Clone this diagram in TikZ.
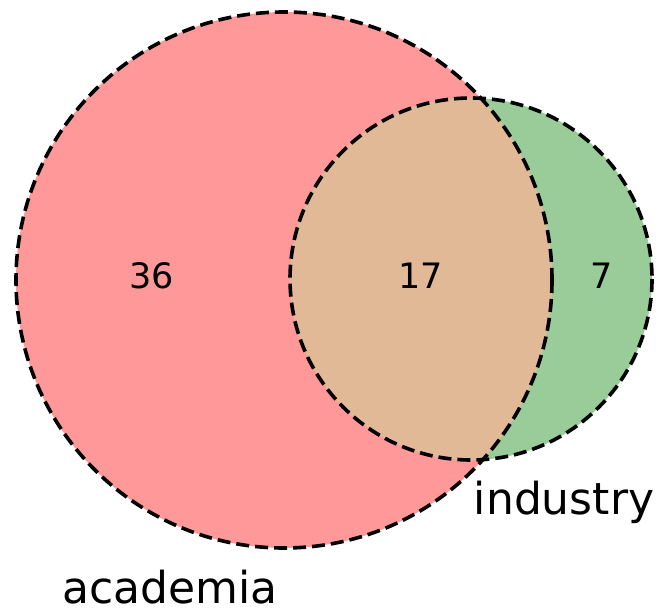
\documentclass[tikz,border=0pt]{standalone}
\usepackage{fontspec}
\setmainfont{DejaVu Sans}
\definecolor{setA}{RGB}{255,153,153}
\definecolor{setB}{RGB}{153,204,153}
\definecolor{setAB}{RGB}{225,185,150}
\begin{document}
\begin{tikzpicture}[x=1pt,y=-1pt,
  border/.style={draw=black,line width=3.6pt,dash pattern=on 13pt off 6pt},
  numlabel/.style={anchor=base,font=\fontsize{35}{40}\selectfont,inner sep=0pt},
  setlabel/.style={anchor=base,font=\fontsize{44}{50}\selectfont,inner sep=0pt}]
\useasboundingbox (0,0) rectangle (660,612);
\fill[setA] (284,280) circle[radius=268];
\fill[setB] (471,279) circle[radius=181];
\begin{scope}
  \clip (284,280) circle[radius=268];
  \fill[setAB] (471,279) circle[radius=181];
\end{scope}
\draw[border] (284,280) circle[radius=268];
\draw[border] (471,279) circle[radius=181];
\node[numlabel] (a) at (152,288) {36};
\node[numlabel] (ab) at (421,288) {17};
\node[numlabel] (b) at (602,288) {7};
\node[setlabel] (lb) at (564,514) {industry};
\node[setlabel] (la) at (170,603) {academia};
\end{tikzpicture}
\end{document}
